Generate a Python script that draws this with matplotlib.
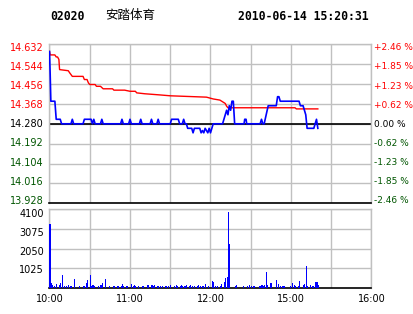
import matplotlib
matplotlib.use("Agg")
import matplotlib.pyplot as plt
from matplotlib.transforms import ScaledTranslation

# price line (minutes after 10:00, lunch break skipped), HKD
price_t = [0, 0.5, 1, 4, 5, 8, 9, 16, 17, 18, 25, 26, 31, 32, 33, 34, 38, 39, 40,
           53, 54, 55, 59, 60, 61, 67, 68, 69, 75, 76, 77, 80, 81, 82, 90, 91, 96, 97,
           99, 100, 101, 102, 103, 106, 107, 108, 112, 113, 114, 115, 116, 117, 118,
           119, 120, 121, 122, 129, 130, 131, 132, 133, 134, 135, 136, 137, 138,
           145, 145.5, 146.5, 147, 157, 158, 159, 160, 163, 169, 170, 171, 172, 186,
           187, 189, 190, 191, 192, 197, 199, 200]
price_v = [14.60, 14.50, 14.38, 14.38, 14.30, 14.30, 14.28, 14.28, 14.30, 14.28, 14.28,
           14.30, 14.30, 14.28, 14.30, 14.28, 14.28, 14.30, 14.28,
           14.28, 14.30, 14.28, 14.28, 14.30, 14.28, 14.28, 14.30, 14.28, 14.28, 14.30,
           14.28, 14.28, 14.30, 14.28, 14.28, 14.30, 14.30, 14.28,
           14.28, 14.30, 14.28, 14.28, 14.26, 14.26, 14.24, 14.26, 14.26, 14.24, 14.25,
           14.24, 14.26, 14.25, 14.24,
           14.26, 14.24, 14.26, 14.28, 14.28, 14.30, 14.32, 14.34, 14.32, 14.36, 14.34,
           14.38, 14.38, 14.28,
           14.28, 14.30, 14.30, 14.28, 14.28, 14.30, 14.28, 14.28, 14.36, 14.36, 14.40,
           14.40, 14.38, 14.38,
           14.36, 14.36, 14.34, 14.32, 14.26, 14.26, 14.30, 14.26]

# average price line
avg_t = [0, 0.5, 4, 5, 6, 7, 7.5, 14, 15, 17, 25, 26, 28, 29, 30, 34, 35, 38, 40, 47,
         48, 56, 60, 64, 65, 71, 82, 90, 117, 122, 127, 131, 132, 133, 183, 184, 200]
avg_v = [14.60, 14.585, 14.585, 14.576, 14.576, 14.565, 14.52, 14.515, 14.506, 14.49,
         14.49, 14.476, 14.476, 14.461, 14.454, 14.454, 14.446, 14.446, 14.435, 14.435,
         14.429, 14.429, 14.424, 14.424, 14.417, 14.413, 14.408, 14.404, 14.398, 14.39,
         14.385, 14.37, 14.358, 14.351, 14.351, 14.346, 14.346]

# volume per minute, minutes 0..200
volume = [
    3320, 260, 170, 130, 0, 200, 0, 170, 260, 690, 0, 130, 130, 0, 170, 130, 130, 0, 480, 0,
    0, 0, 130, 0, 0, 130, 130, 260, 430, 0, 690, 130, 170, 130, 0, 0, 130, 0, 170, 260,
    0, 480, 0, 0, 130, 0, 0, 130, 130, 0, 130, 130, 0, 130, 220, 130, 0, 130, 130, 0,
    0, 220, 130, 170, 130, 0, 130, 0, 0, 130, 130, 0, 0, 170, 0, 0, 170, 130, 170, 0,
    130, 130, 130, 0, 130, 0, 130, 130, 130, 0, 170, 0, 0, 130, 170, 130, 0, 130, 170, 130,
    130, 130, 170, 0, 130, 170, 130, 0, 130, 0, 130, 170, 130, 0, 130, 0, 200, 0, 130, 0,
    0, 380, 310, 120, 0, 120, 0, 120, 220, 0, 310, 550, 600, 3950, 2290, 0, 0, 0, 120, 170,
    0, 0, 0, 0, 120, 0, 0, 120, 0, 170, 120, 0, 120, 0, 0, 0, 120, 140, 170, 120,
    170, 860, 170, 0, 260, 260, 0, 0, 0, 430, 200, 0, 120, 120, 120, 120, 0, 0, 0, 140,
    0, 260, 170, 120, 0, 120, 380, 0, 0, 170, 200, 1150, 120, 0, 170, 0, 120, 0, 310, 310,
    170]

prev_close = 14.280
price_ticks = [14.632, 14.544, 14.456, 14.368, 14.280, 14.192, 14.104, 14.016, 13.928]
pct_labels = ["+2.46 %", "+1.85 %", "+1.23 %", "+0.62 %", "0.00 %",
              "-0.62 %", "-1.23 %", "-1.85 %", "-2.46 %"]
vol_ticks = [1025, 2050, 3075, 4100]
time_pos = [0, 60, 120, 180, 240]
time_labels = ["10:00", "11:00", "12:00", "15:00", "16:00"]

RED = "#ff0000"
GREEN = "#005500"
GRID = "#c0c0c0"
W, H = 414, 314

fig = plt.figure(figsize=(W / 100, H / 100), dpi=100)
fig.patch.set_facecolor("white")


def box(l, t, r, b):
    return [l / W, 1 - b / H, (r - l) / W, (b - t) / H]


def shift(lab, dy_px):
    lab.set_transform(lab.get_transform() + ScaledTranslation(0, -dy_px / 100, fig.dpi_scale_trans))


def tick_color(p):
    if abs(p - prev_close) < 1e-6:
        return "black"
    return RED if p > prev_close else GREEN


ax = fig.add_axes(box(49.5, 44.3, 371.5, 203.3))
axv = fig.add_axes(box(49.5, 209, 371.5, 288.3))

for a in (ax, axv):
    a.set_xlim(0, 240)
    a.set_xticks(range(0, 241, 30))
    a.grid(True, color=GRID, lw=1)
    a.set_axisbelow(True)
    for s in ("left", "right", "top"):
        a.spines[s].set_color(GRID)
        a.spines[s].set_linewidth(1)
    a.spines["bottom"].set_color("black")
    a.spines["bottom"].set_linewidth(1.2)
    a.tick_params(length=0, labelsize=7, pad=4)

# main price panel
ax.set_ylim(price_ticks[-1], price_ticks[0])
ax.set_yticks(price_ticks)
ax.set_yticklabels(["%.3f" % p for p in price_ticks])
ax.tick_params(labelbottom=False)
for i, (lab, p) in enumerate(zip(ax.get_yticklabels(), price_ticks)):
    lab.set_color(tick_color(p))
    shift(lab, 2.4 - 0.72 * i)

ax.axhline(prev_close, color="black", lw=1.2, zorder=2)
ax.plot(avg_t, avg_v, color=RED, lw=1, zorder=3)
ax.plot(price_t, price_v, color="#0000ff", lw=1.2, zorder=4)

ax2 = ax.twinx()
ax2.set_ylim(ax.get_ylim())
ax2.set_yticks(price_ticks)
ax2.set_yticklabels(pct_labels)
ax2.tick_params(length=0, labelsize=6.5, pad=1.5)
for s in ax2.spines.values():
    s.set_visible(False)
for i, (lab, p) in enumerate(zip(ax2.get_yticklabels(), price_ticks)):
    lab.set_color(tick_color(p))
    shift(lab, 2.4 - 0.72 * i)

# volume panel
axv.set_ylim(0, 4100)
axv.set_yticks(vol_ticks)
axv.set_yticklabels([str(v) for v in vol_ticks])
for lab, d in zip(axv.get_yticklabels(), [1, 2.3, 3.3, 4]):
    shift(lab, d)
axv.set_xticklabels(["" if i not in time_pos else time_labels[time_pos.index(i)]
                     for i in range(0, 241, 30)])
axv.bar(range(len(volume)), volume, width=0.8, color="#0000ff", align="edge",
        antialiased=False, zorder=3)

# header
fig.text(50 / W, 1 - 16 / H, "02020", fontsize=8.3, fontweight="bold",
         family="DejaVu Sans Mono", va="center")
fig.text(105 / W, 1 - 16 / H, "安踏体育", fontsize=9, family=["Noto Sans CJK SC", "DejaVu Sans"],
         va="center")
fig.text(238 / W, 1 - 16 / H, "2010-06-14 15:20:31", fontsize=8.3, fontweight="bold",
         family="DejaVu Sans Mono", va="center")

fig.savefig("out.png", dpi=100)
